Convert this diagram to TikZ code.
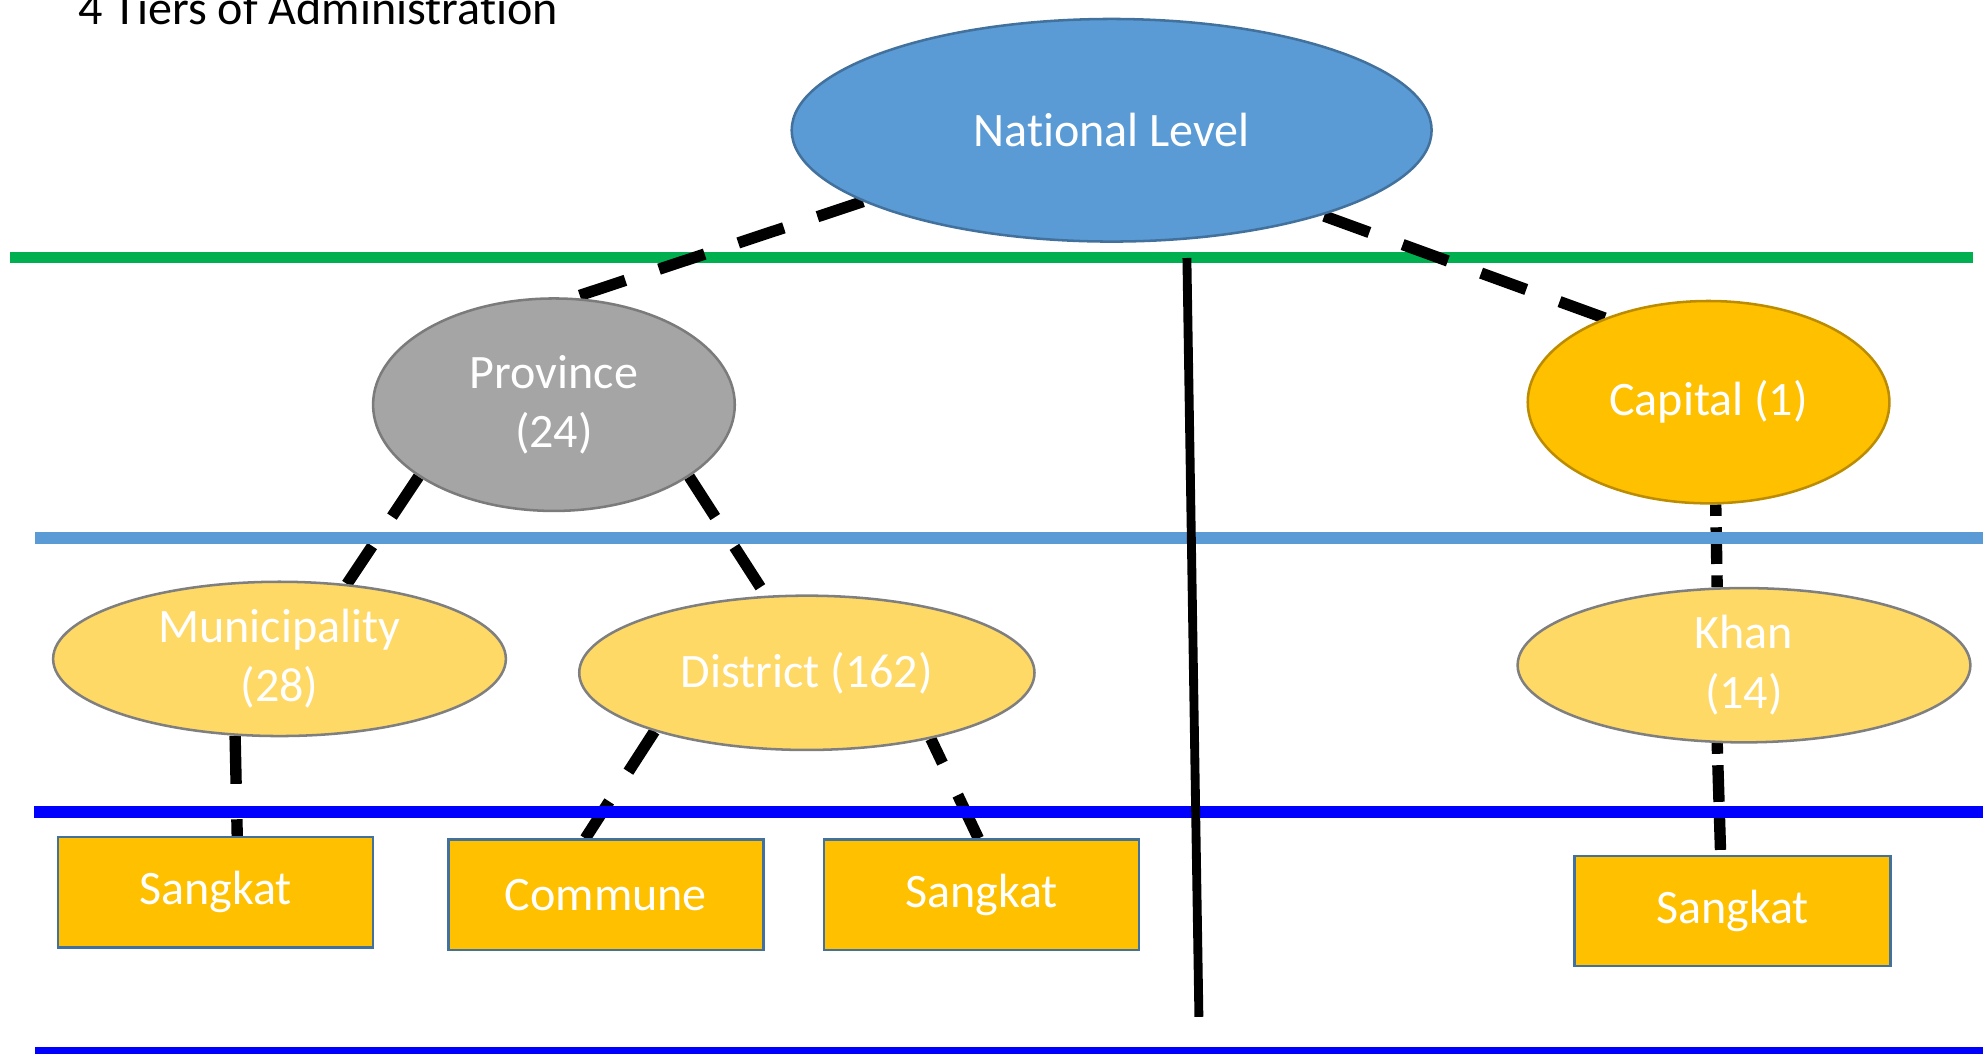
\documentclass[tikz,border=0pt]{standalone}
\usepackage{fontspec}
\setmainfont[Ligatures=NoCommon]{Carlito}
\usetikzlibrary{shapes.geometric,backgrounds}

\definecolor{natfill}{HTML}{5B9BD5}
\definecolor{natedge}{HTML}{41719C}
\definecolor{provfill}{HTML}{A5A5A5}
\definecolor{provedge}{HTML}{7B7B7B}
\definecolor{capfill}{HTML}{FFC000}
\definecolor{capedge}{HTML}{BC8C00}
\definecolor{lowfill}{HTML}{FFD966}
\definecolor{lowedge}{HTML}{7F7F7F}
\definecolor{boxedge}{HTML}{41719C}
\definecolor{tiergreen}{HTML}{00B050}
\definecolor{tierlightblue}{HTML}{5B9BD5}
\definecolor{tierblue}{HTML}{0000FF}

\begin{document}
\begin{tikzpicture}[x=1pt,y=-1pt,
  txt/.style={font=\fontsize{38}{47}\selectfont},
  unit/.style={txt, ellipse, inner sep=0pt, text=white, align=center, line width=2pt},
  national/.style={unit, fill=natfill, draw=natedge, minimum width=506pt, minimum height=176pt},
  province/.style={unit, fill=provfill, draw=provedge, minimum width=286pt, minimum height=168pt},
  capital/.style={unit, fill=capfill, draw=capedge, minimum width=286pt, minimum height=160pt},
  lower/.style={unit, fill=lowfill, draw=lowedge, minimum width=358pt, minimum height=122pt},
  commbox/.style={txt, rectangle, inner sep=0pt, text=white, fill=capfill, draw=boxedge,
                  line width=2pt, minimum width=249pt, minimum height=87pt},
  tier/.style={line width=9pt},
  linkdash/.style={black, line width=9pt, dash pattern=on 38pt off 28pt},
  linksys/.style={black, line width=9pt, dash pattern=on 29pt off 9pt},
  spine/.style={black, line width=7pt}
]
\useasboundingbox (0,0) rectangle (1568,833);

% title
\node[txt, anchor=base west, inner sep=0pt] (title) at (62,19) {4 Tiers of Administration};

% tier 1
\node[national] (nat) at (879,103) {National Level};

% tier 2
\node[province] (prov) at (438,320) {Province\\(24)};
\node[capital]  (cap)  at (1351,318) {Capital (1)};

% tier 3
\node[lower] (muni) at (221,521)  {Municipality\\(28)};
\node[lower, minimum width=360pt] (dist) at (638,532) {District (162)};
\node[lower] (khan) at (1379,526) {Khan\\(14)};

% tier 4
\node[commbox] (s1)   at (170.5,705.5) {Sangkat};
\node[commbox] (comm) at (479,707.5)   {Commune};
\node[commbox] (s2)   at (776,707.5)   {Sangkat};
\node[commbox, minimum width=250pt] (s3) at (1370,720.5) {Sangkat};

\begin{scope}[on background layer]
  % separator under the national level
  \draw[tier, tiergreen] (8,203.5) -- (1560,203.5);

  % hierarchy links
  \draw[linkdash] (nat.196) -- (prov.80);
  \draw[linkdash] (cap.141) -- (nat.338);
  \draw[linkdash] (prov.208) -- (muni.48);
  \draw[linkdash] (prov.332) -- (dist.118);
  \draw[linkdash] (muni.240) -- (s1.69);
  \draw[linkdash] (dist.201) -- (comm.110);
  \draw[linkdash] (s2.93) -- (dist.332);
  \draw[linksys, dash phase=20pt] (cap.274) -- (khan.109);
  \draw[linksys, dash phase=20.5pt] (khan.251) -- (s3.102);

  % separators between the lower tiers
  \draw[tier, tierlightblue] (28,425.5) -- (1568,425.5);
  \draw[tier, tierblue] (27,642) -- (1568,642);
  \draw[tier, tierblue] (28,832) -- (1568,832);

  % divider between provinces and the capital
  \draw[spine] (938.5,204) -- (948,804);
\end{scope}
\end{tikzpicture}
\end{document}
